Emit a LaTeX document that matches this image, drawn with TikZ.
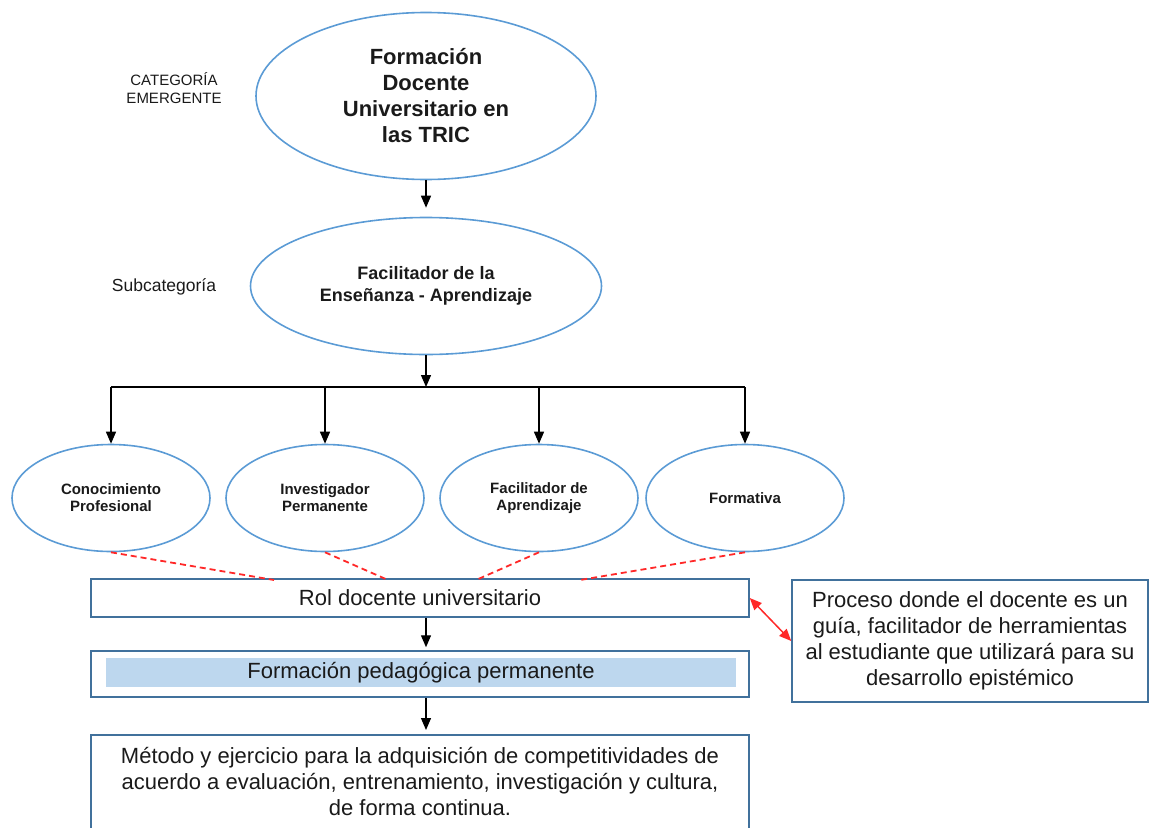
\documentclass[tikz,border=0pt]{standalone}
\usepackage{fontspec}
\setmainfont{Liberation Sans}
\usetikzlibrary{shapes.geometric,arrows.meta,calc}
\definecolor{ellblue}{RGB}{91,155,213}
\definecolor{boxblue}{RGB}{65,113,156}
\definecolor{fillblue}{RGB}{189,215,238}
\definecolor{txt}{RGB}{26,26,26}
\definecolor{redline}{RGB}{255,40,40}
\begin{document}
\begin{tikzpicture}[x=1pt,y=-1pt,
  ell/.style={ellipse, draw=ellblue, line width=1.6pt, inner sep=0pt, align=center, text=txt},
  smallell/.style={ell, minimum width=198pt, minimum height=107pt, font=\fontsize{15}{17}\selectfont\bfseries},
  boxn/.style={rectangle, draw=boxblue, line width=1.5pt, inner sep=0pt, text=txt},
  big/.style={font=\fontsize{22}{26}\selectfont},
  arr/.style={-{Triangle[length=12pt,width=10pt]}, line width=1.3pt},
  reddash/.style={redline, dash pattern=on 6pt off 4pt, line width=1.8pt},
  redarr/.style={{Triangle[length=12pt,width=10pt]}-{Triangle[length=12pt,width=10pt]}, redline, line width=1.5pt},
  lbl/.style={text=txt, align=center}
]
\useasboundingbox (0,0) rectangle (1155,827);
\clip (0,0) rectangle (1155,827);

% top category
\node[ell, minimum width=340pt, minimum height=167pt, font=\fontsize{22}{26}\selectfont\bfseries] (cat) at (426,96) {Formación\\Docente\\Universitario en\\las TRIC};
\node[lbl, font=\fontsize{15}{18}\selectfont] (catlbl) at (174,88) {CATEGORÍA\\EMERGENTE};

% subcategory
\node[ell, minimum width=351pt, minimum height=137pt, font=\fontsize{18}{22}\selectfont\bfseries] (sub) at (426,286) {Facilitador de la\\Enseñanza - Aprendizaje};
\node[lbl, font=\fontsize{17.5}{21}\selectfont] (sublbl) at (164,287) {Subcategoría};

\coordinate (bar) at (426,387);

% four ellipses
\node[smallell] (s1) at (111,498) {Conocimiento\\Profesional};
\node[smallell] (s2) at (325,498) {Investigador\\Permanente};
\node[smallell] (s3) at (539,498) {Facilitador de\\Aprendizaje};
\node[smallell] (s4) at (745,498) {Formativa};

% boxes
\node[boxn, big, minimum width=658pt, minimum height=38pt] (rol) at (420,598) {Rol docente universitario};
\node[boxn, minimum width=658pt, minimum height=46pt] (ped) at (420,674) {};
\node[fill=fillblue, inner sep=0pt, minimum width=630pt, minimum height=29pt, big, text=txt] (pedtxt) at (421,672.5) {Formación pedagógica permanente};
\node[boxn, anchor=north, minimum width=658pt, minimum height=120pt] (met) at (420,734) {};
\node[lbl, big] (mettxt) at (420,781) {Método y ejercicio para la adquisición de competitividades de\\acuerdo a evaluación, entrenamiento, investigación y cultura,\\de forma continua.};
\node[boxn, big, align=center, minimum width=356pt, minimum height=122pt] (desc) at (970,641) {Proceso donde el docente es un\\guía, facilitador de herramientas\\al estudiante que utilizará para su\\desarrollo epistémico};

% connectors
\draw[arr, shorten >=9pt] (cat.south) -- (sub.north);
\draw[arr] (sub.south) -- (bar);
\draw[line width=1.3pt] (s1.north |- bar) -- (s4.north |- bar);
\foreach \i in {1,2,3,4} {
  \draw[arr] (s\i.north |- bar) -- (s\i.north);
}
\coordinate (d1) at (274,580);
\coordinate (d2) at (388,580);
\coordinate (d3) at (476,580);
\coordinate (d4) at (580,580);
\draw[reddash] (s1.south) -- (d1);
\draw[reddash] (s2.south) -- (d2);
\draw[reddash] (s3.south) -- (d3);
\draw[reddash] (s4.south) -- (d4);
\draw[arr, shorten >=3pt] (rol.south -| bar) -- (ped.north -| bar);
\draw[arr, shorten >=4pt] (ped.south -| bar) -- (met.north -| bar);
\draw[redarr] (rol.east) -- (desc.west);
\end{tikzpicture}
\end{document}
